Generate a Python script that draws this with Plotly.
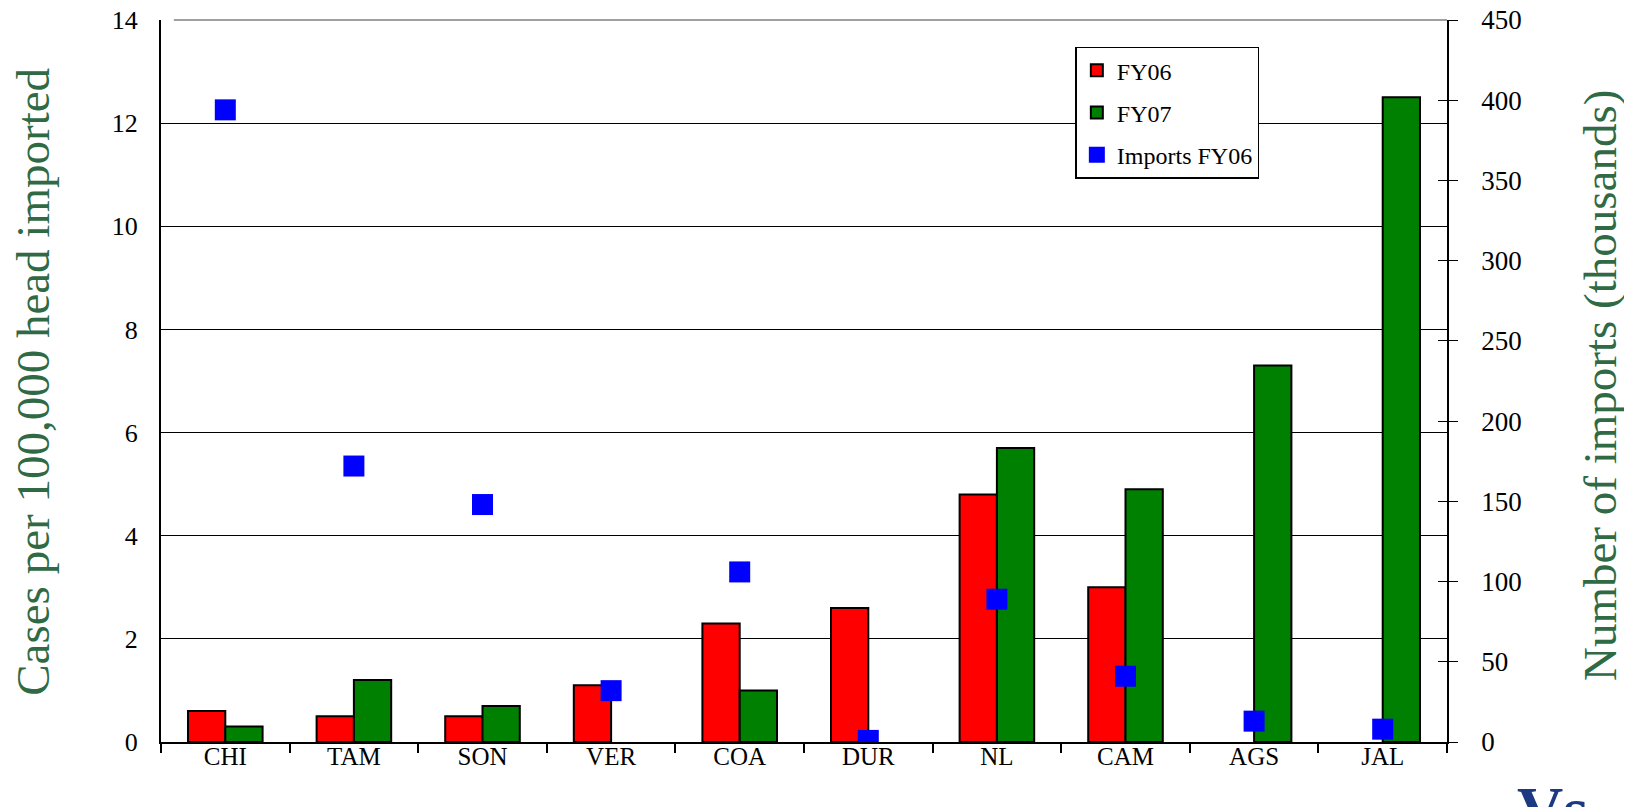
import plotly.graph_objects as go

# States (x categories)
states = ["CHI", "TAM", "SON", "VER", "COA", "DUR", "NL", "CAM", "AGS", "JAL"]

# Cases per 100,000 head imported (left axis)
fy06 = [0.6, 0.5, 0.5, 1.1, 2.3, 2.6, 4.8, 3.0, None, None]
fy07 = [0.3, 1.2, 0.7, None, 1.0, None, 5.7, 4.9, 7.3, 12.5]

# Number of imports in thousands (right axis)
imports_fy06 = [394, 172, 148, 32, 106, 1, 89, 41, 13, 8]

left_ticks = [0, 2, 4, 6, 8, 10, 12, 14]
right_ticks = [0, 50, 100, 150, 200, 250, 300, 350, 400, 450]

FONT = "Liberation Serif, Times New Roman, serif"
TITLE_GREEN = "#2F6A45"

fig = go.Figure()
fig.add_trace(go.Bar(
    x=states, y=fy06, name="FY06", legendgroup="a",
    marker=dict(color="#FF0000", line=dict(color="black", width=2)),
))
fig.add_trace(go.Bar(
    x=states, y=fy07, name="FY07", legendgroup="b",
    marker=dict(color="#008000", line=dict(color="black", width=2)),
))
fig.add_trace(go.Scatter(
    x=states, y=imports_fy06, name="Imports FY06", legendgroup="c",
    mode="markers", yaxis="y2",
    marker=dict(symbol="square", size=21, color="#0000FF", line=dict(width=0)),
))
# empty trace so the inner half of the right-axis ticks gets drawn
fig.add_trace(go.Scatter(x=[states[0]], y=[None], yaxis="y3", mode="markers",
                         showlegend=False, hoverinfo="skip"))

# page body adds an 8px offset, so the figure is 16px smaller than the window
fig.update_layout(
    width=1624, height=799,
    margin=dict(l=153, r=185, t=12, b=65, autoexpand=False),
    paper_bgcolor="white", plot_bgcolor="white",
    font=dict(family=FONT, size=24, color="black"),
    barmode="group", bargap=0.42, bargroupgap=0,
    showlegend=True,
    legend=dict(
        x=0.711, y=0.963, xanchor="left", yanchor="top",
        bgcolor="white", bordercolor="black", borderwidth=1.5,
        font=dict(family=FONT, size=24), tracegroupgap=8,
    ),
    xaxis=dict(
        type="category", range=[-0.5, len(states) - 0.5],
        showgrid=False, showline=True, automargin=False,
        linecolor="black", linewidth=2,
        ticks="outside", tickson="boundaries", ticklen=9, tickwidth=1.5,
        tickcolor="black", ticklabelstandoff=-9,
        tickfont=dict(family=FONT, size=25),
    ),
    yaxis=dict(
        range=[0, 14], tickvals=left_ticks, showgrid=True, automargin=False,
        gridcolor="black", gridwidth=1.3, zeroline=False,
        showline=True, linecolor="black", linewidth=2,
        ticks="inside", ticklen=8, tickcolor="black",
        ticklabelstandoff=16, ticklabeloverflow="allow",
        tickfont=dict(family=FONT, size=26),
    ),
    yaxis2=dict(
        range=[0, 450], tickvals=right_ticks, overlaying="y", side="right",
        showgrid=False, zeroline=False, showline=True, automargin=False,
        linecolor="black", linewidth=1.5,
        ticks="outside", ticklen=9, tickcolor="black",
        ticklabelstandoff=18, ticklabeloverflow="allow",
        tickfont=dict(family=FONT, size=27),
    ),
    yaxis3=dict(
        range=[0, 450], tickvals=right_ticks, overlaying="y", side="right",
        showgrid=False, zeroline=False, showline=False, automargin=False,
        showticklabels=False, ticks="inside", ticklen=9, tickcolor="black",
    ),
    shapes=[dict(type="line", xref="paper", yref="paper", x0=0.01, x1=1, y0=1, y1=1,
                 line=dict(color="#808080", width=1.5))],
    annotations=[
        dict(text="Cases per 100,000 head imported", textangle=-90,
             xref="paper", yref="paper", x=-0.0995, y=0.499,
             xanchor="center", yanchor="middle", showarrow=False,
             font=dict(family=FONT, size=47, color=TITLE_GREEN)),
        dict(text="Number of imports (thousands)", textangle=-90,
             xref="paper", yref="paper", x=1.1195, y=0.494,
             xanchor="center", yanchor="middle", showarrow=False,
             font=dict(family=FONT, size=47, color=TITLE_GREEN)),
        dict(text="<b>Vs</b>", xref="paper", yref="paper", x=1.0824, y=-0.041,
             xanchor="center", yanchor="top", showarrow=False,
             font=dict(family=FONT, size=64, color="#1C3A82")),
    ],
)

fig.write_html("out.html")
